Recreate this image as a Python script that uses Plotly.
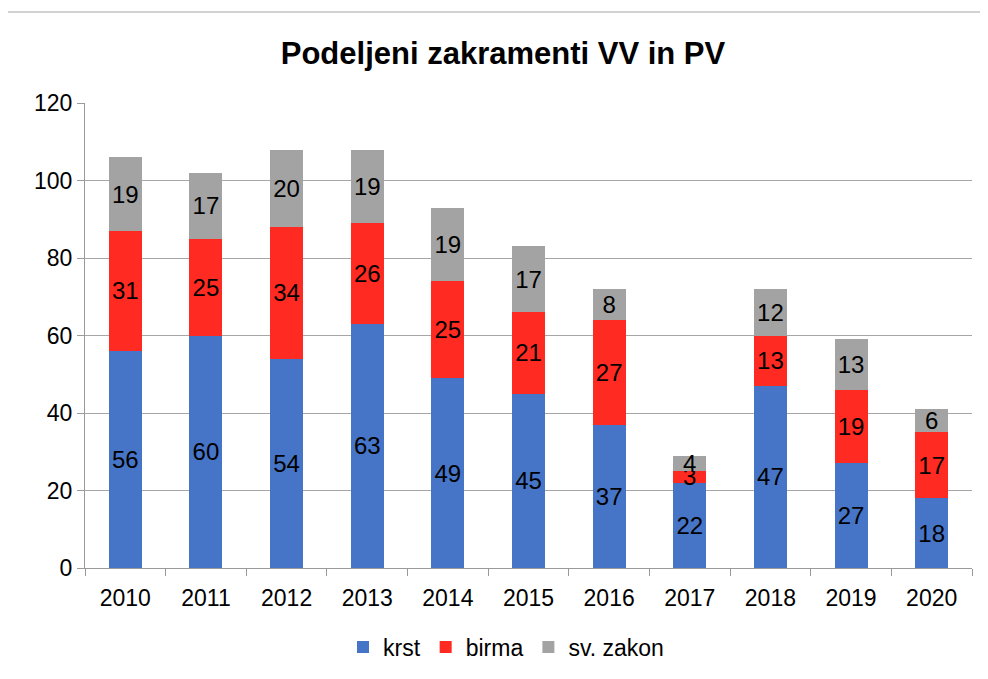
import plotly.graph_objects as go

years = ["2010", "2011", "2012", "2013", "2014", "2015", "2016", "2017", "2018", "2019", "2020"]
krst = [56, 60, 54, 63, 49, 45, 37, 22, 47, 27, 18]
birma = [31, 25, 34, 26, 25, 21, 27, 3, 13, 19, 17]
zakon = [19, 17, 20, 19, 19, 17, 8, 4, 12, 13, 6]

FONT = "Liberation Sans, Arial, sans-serif"
W, H = 988, 679
OFF = 8  # default page body margin
# target plot area in page pixels
PX0, PX1, PY0, PY1 = 85, 972, 103, 568
L, T = PX0 - OFF, PY0 - OFF
R, B = W + OFF - PX1, H + OFF - PY1
pw, ph = PX1 - PX0, PY1 - PY0

fig = go.Figure()
for name, vals, col in [("krst", krst, "#4675C8"), ("birma", birma, "#FF2A22"), ("sv. zakon", zakon, "#A3A3A3")]:
    fig.add_trace(go.Bar(
        x=years, y=vals, name=name, marker=dict(color=col, line=dict(width=0)),
        text=vals, textposition="inside", insidetextanchor="middle", textangle=0,
        textfont=dict(family=FONT, size=24, color="black"),
        constraintext="none", cliponaxis=False,
    ))

fig.update_layout(
    barmode="stack", bargap=0.59,
    width=W, height=H,
    margin=dict(l=L, r=R, t=T, b=B, pad=0),
    paper_bgcolor="white", plot_bgcolor="white",
    font=dict(family=FONT, size=23, color="black"),
    title=dict(text="<b>Podeljeni zakramenti VV in PV</b>", font=dict(family=FONT, size=31, color="black"),
               x=(503 - OFF) / W, xanchor="center", xref="container",
               y=1 - (53 - OFF) / H, yanchor="middle", yref="container"),
    legend=dict(orientation="h", x=(506 - PX0) / pw, xanchor="center", y=-(647 - PY1) / ph, yanchor="middle",
                font=dict(family=FONT, size=23), traceorder="normal"),
    shapes=[dict(type="rect", xref="paper", yref="paper",
                 x0=(4 - PX0) / pw, x1=2, y0=-1, y1=1 + (PY0 - 12) / ph,
                 line=dict(color="#A6A6A6", width=1), fillcolor="rgba(0,0,0,0)", layer="below")],
)
fig.update_xaxes(showline=True, linecolor="#9A9A9A", linewidth=1, ticks="outside", tickson="boundaries",
                 ticklen=7, tickcolor="#9A9A9A", tickfont=dict(family=FONT, size=23), showgrid=False,
                 ticklabelstandoff=9)
fig.update_yaxes(range=[0, 120], dtick=20, showline=True, linecolor="#9A9A9A", linewidth=1,
                 ticks="outside", ticklen=7, tickcolor="#9A9A9A", gridcolor="#A6A6A6", gridwidth=1,
                 tickfont=dict(family=FONT, size=23), zeroline=False)

fig.write_html("out.html")
